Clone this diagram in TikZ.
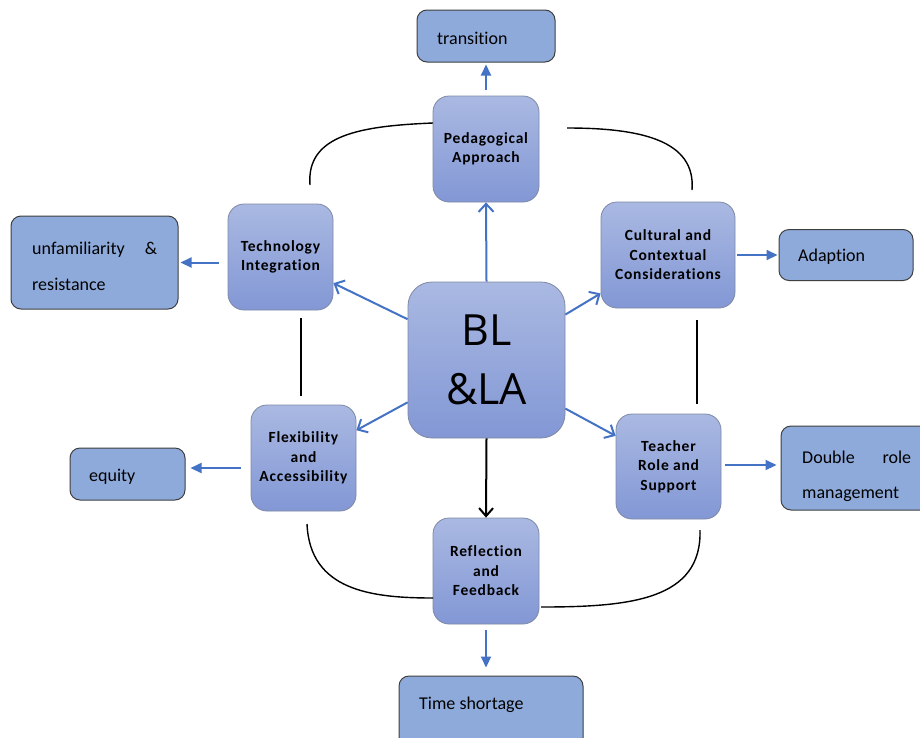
\documentclass[tikz,border=0pt]{standalone}
\usepackage{fontspec}
\setmainfont[Ligatures={NoCommon,NoRequired,NoContextual}]{Carlito}
\newfontfamily\boxfont[LetterSpace=5,Ligatures={NoCommon,NoRequired,NoContextual}]{Carlito}
\newfontfamily\bigfont{Open Sans}
\usetikzlibrary{arrows.meta,calc}
\definecolor{lblue}{HTML}{4472C4}
\definecolor{outfill}{HTML}{8EAADB}
\definecolor{gtop}{HTML}{AAB9E2}
\definecolor{gbot}{HTML}{8297D5}
\definecolor{inborder}{HTML}{7F89A6}
\definecolor{outborder}{HTML}{3F3F3F}
\begin{document}
\begin{tikzpicture}[x=1pt,y=-1pt,
  innerbox/.style={draw=inborder, line width=0.8pt, rounded corners=16pt, top color=gtop, bottom color=gbot,
    font=\boxfont\bfseries\fontsize{15.5}{19.5}\selectfont, align=center, inner sep=0pt},
  outbox/.style={draw=outborder, line width=1pt, rounded corners=10pt, fill=outfill, inner sep=0pt},
  outtext/.style={font=\fontsize{18}{22}\selectfont, anchor=west, inner sep=0pt, align=left},
  bluearrow/.style={draw=lblue, line width=2pt, -{Triangle[length=11pt,width=10pt]}},
  spoke/.style={draw=lblue, line width=2pt, -{Straight Barb[length=8pt,width=15pt,line width=2pt]}},
  blackspoke/.style={draw=black, line width=2pt, -{Straight Barb[length=8pt,width=14pt,line width=2pt]}},
  link/.style={draw=black, line width=1.4pt},
]
\clip (0,0) rectangle (920,737);
\fill[white] (0,0) rectangle (920,737);

% outer boxes
\node[outbox, minimum width=138pt, minimum height=52pt] (trans) at (486,36) {};
\node[outtext] (transt) at (437,38) {transition};
\node[outbox, minimum width=134pt, minimum height=51pt] (adapt) at (846,255) {};
\node[outtext] (adaptt) at (798,257) {Adaption};
\node[outbox, minimum width=167pt, minimum height=93pt] (unfam) at (94.5,262.5) {};
\node[outtext, text width=125pt, font=\fontsize{18}{36}\selectfont] (unfamt) at (32,266) {\makebox[125pt][s]{unfamiliarity\hfill\&}\\resistance};
\node[outbox, minimum width=115pt, minimum height=52pt] (equity) at (127.5,474) {};
\node[outtext] (equityt) at (89,477) {equity};
\node[outbox, minimum width=151pt, minimum height=84pt] (double) at (856.5,468) {};
\node[outtext, text width=109pt, font=\fontsize{18}{35}\selectfont] (doublet) at (802,476) {\makebox[109pt][s]{Double\hfill role}\\management};
\node[outbox, minimum width=184pt, minimum height=90pt] (time) at (491,721) {};
\node[outtext] (timet) at (419,705) {Time shortage};

% inner boxes
\node[innerbox, minimum width=106pt, minimum height=106pt] (ped) at (486,149) {Pedagogical\\Approach};
\node[innerbox, minimum width=134pt, minimum height=106pt] (cult) at (668,255) {Cultural and\\Contextual\\Considerations};
\node[innerbox, minimum width=105pt, minimum height=106pt] (tech) at (280.5,257) {Technology\\Integration};
\node[innerbox, minimum width=105pt, minimum height=106pt] (flex) at (303.5,458) {Flexibility\\and\\Accessibility};
\node[innerbox, minimum width=105pt, minimum height=105pt] (teacher) at (668.5,466.5) {Teacher\\Role and\\Support};
\node[innerbox, minimum width=106pt, minimum height=106pt] (refl) at (486,571) {Reflection\\and\\Feedback};
\node[innerbox, minimum width=157pt, minimum height=156pt, rounded corners=24pt,
  font=\bigfont\fontsize{43}{59}\selectfont] (bl) at (486.5,360) {BL\\\&LA};

% outward arrows
\draw[bluearrow, shorten <=6pt, shorten >=2pt] (ped.north) -- (trans.south);
\draw[bluearrow, shorten <=9pt, shorten >=2pt] (tech.west |- unfam.east) -- (unfam.east);
\draw[bluearrow, shorten <=2pt, shorten >=1pt] (cult.east |- adapt.west) -- (adapt.west);
\draw[bluearrow, shorten <=10pt, shorten >=5pt] ($(flex.west)+(0,10)$) -- ($(equity.east)+(0,-6)$);
\draw[bluearrow, shorten <=4pt, shorten >=4pt] ($(teacher.east)+(0,-1.5)$) -- ($(double.west)+(0,-3)$);
\draw[bluearrow, shorten <=6pt, shorten >=8pt] (refl.south) -- (refl.south |- time.north);

% spokes
\draw[spoke] (bl.north) -- (ped.south);
\draw[blackspoke] (bl.south) -- (refl.north);
\draw[spoke] ($(bl.north west)!0.24!(bl.south west)$) -- ($(tech.north east)!0.745!(tech.south east)$);
\draw[spoke] ($(bl.north east)!0.21!(bl.south east)$) -- ($(cult.north west)!0.86!(cult.south west)$);
\draw[spoke] ($(bl.north west)!0.77!(bl.south west)$) -- ($(flex.north east)!0.24!(flex.south east)$);
\draw[spoke] ($(bl.north east)!0.81!(bl.south east)$) -- ($(teacher.north west)!0.21!(teacher.south west)$);

% ring links
\coordinate (tl1) at (310,185);
\coordinate (tl2) at (433,123);
\coordinate (tr1) at (567,128);
\coordinate (tr2) at (692,190);
\coordinate (bl1) at (307,524);
\coordinate (bl2) at (433,598);
\coordinate (br1) at (541,607);
\coordinate (br2) at (700,530);
\coordinate (lv1) at (301,318);
\coordinate (lv2) at (301,396);
\coordinate (rv1) at (697,320);
\coordinate (rv2) at (697,404);
\draw[link] (tl1) .. controls (306,135) and (360,126) .. (tl2);
\draw[link] (tr1) .. controls (640,128) and (696,140) .. (tr2);
\draw[link] (bl1) .. controls (310,590) and (370,598) .. (bl2);
\draw[link] (br1) .. controls (630,607) and (702,600) .. (br2);
\draw[link] (lv1) -- (lv2);
\draw[link] (rv1) -- (rv2);
\end{tikzpicture}
\end{document}
